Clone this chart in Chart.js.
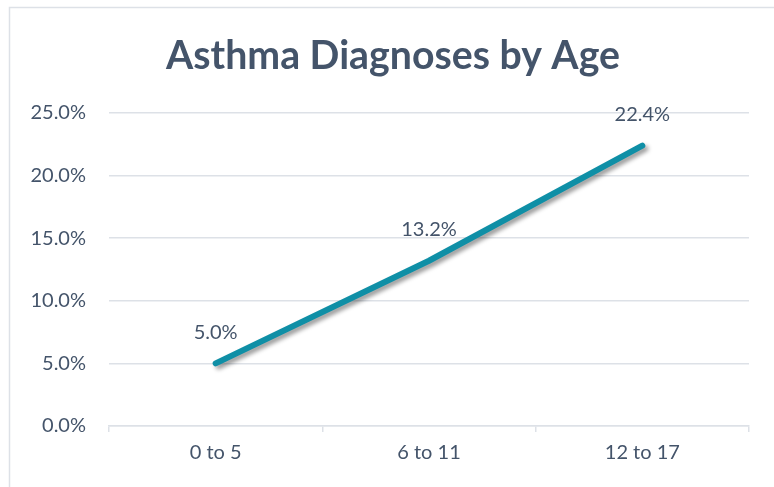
<!DOCTYPE html>
<html>
<head>
<meta charset="utf-8">
<script src="https://cdn.jsdelivr.net/npm/chart.js@4.4.1/dist/chart.umd.min.js"></script>
<style>
  html, body { margin: 0; padding: 0; background: #ffffff; }
  #c { display: block; }
</style>
</head>
<body>
<canvas id="c" width="774" height="487"></canvas>
<script>
// ---- data ----
const chartTitle = "Asthma Diagnoses by Age";
const categories = ["0 to 5", "6 to 11", "12 to 17"];
const diagnosisRates = [5.0, 13.2, 22.4];
const yTickMin = 0;
const yTickMax = 25;
const yTickStep = 5;

// ---- style ----
const TEXT = "#44546a";
const GRID = "#dde1e7";
const LINE = "#0f8fa6";
const FONT = "Lato, 'Open Sans', sans-serif";

const fmtPct = v => Number(v).toFixed(1) + "%";

const frame = {
  id: "frame",
  beforeDraw(chart) {
    const ctx = chart.ctx;
    ctx.save();
    ctx.fillStyle = "#ffffff";
    ctx.fillRect(0, 0, chart.width, chart.height);
    ctx.strokeStyle = "#dde1e7";
    ctx.lineWidth = 1.5;
    ctx.beginPath();
    ctx.moveTo(9.5, chart.height + 5);
    ctx.lineTo(9.5, 7.5);
    ctx.lineTo(chart.width + 5, 7.5);
    ctx.stroke();
    ctx.restore();
  },
  afterDraw(chart) {
    const ctx = chart.ctx;
    ctx.save();
    ctx.fillStyle = TEXT;
    ctx.textAlign = "center";
    ctx.textBaseline = "alphabetic";
    let size = 38;
    ctx.font = "bold " + size + "px " + FONT;
    const w = ctx.measureText(chartTitle).width;
    size = size * 454 / w;
    ctx.font = "bold " + size.toFixed(2) + "px " + FONT;
    ctx.fillText(chartTitle, 393, 69);
    ctx.restore();
  }
};

const lineShadow = {
  id: "lineShadow",
  beforeDatasetsDraw(chart) {
    const ctx = chart.ctx;
    ctx.save();
    ctx.shadowColor = "rgba(0,0,0,0.4)";
    ctx.shadowBlur = 4;
    ctx.shadowOffsetX = 3;
    ctx.shadowOffsetY = 3;
  },
  afterDatasetsDraw(chart) {
    chart.ctx.restore();
    const ctx = chart.ctx;
    ctx.save();
    ctx.fillStyle = TEXT;
    ctx.font = "20px " + FONT;
    ctx.textAlign = "center";
    ctx.textBaseline = "middle";
    chart.data.datasets.forEach((ds, di) => {
      const meta = chart.getDatasetMeta(di);
      meta.data.forEach((pt, i) => {
        ctx.fillText(fmtPct(ds.data[i]), pt.x, pt.y - 31);
      });
    });
    ctx.restore();
  }
};

new Chart(document.getElementById("c"), {
  type: "line",
  data: {
    labels: categories,
    datasets: [{
      label: "Asthma diagnoses",
      data: diagnosisRates,
      borderColor: LINE,
      backgroundColor: LINE,
      borderWidth: 6,
      borderCapStyle: "round",
      borderJoinStyle: "round",
      pointRadius: 0,
      pointHoverRadius: 0,
      tension: 0,
      fill: false
    }]
  },
  options: {
    responsive: false,
    animation: false,
    devicePixelRatio: 1,
    layout: { padding: { left: 0, right: 25, top: 113, bottom: 0 } },
    plugins: {
      legend: { display: false },
      title: { display: false },
      tooltip: { enabled: false }
    },
    scales: {
      x: {
        offset: true,
        grid: {
          offset: true,
          drawOnChartArea: false,
          drawTicks: true,
          tickLength: 6,
          color: GRID,
          lineWidth: 1.5
        },
        border: { display: true, color: GRID, width: 1.5 },
        ticks: { color: TEXT, font: { family: FONT, size: 20 }, padding: 9 },
        afterFit(scale) { scale.height = 61; }
      },
      y: {
        min: yTickMin,
        max: yTickMax,
        ticks: {
          stepSize: yTickStep,
          color: TEXT,
          font: { family: FONT, size: 20 },
          padding: 23,
          callback: v => fmtPct(v)
        },
        grid: { color: GRID, lineWidth: 1.5, drawTicks: false },
        border: { display: false },
        afterFit(scale) { scale.width = 109; }
      }
    }
  },
  plugins: [frame, lineShadow]
});
</script>
</body>
</html>
